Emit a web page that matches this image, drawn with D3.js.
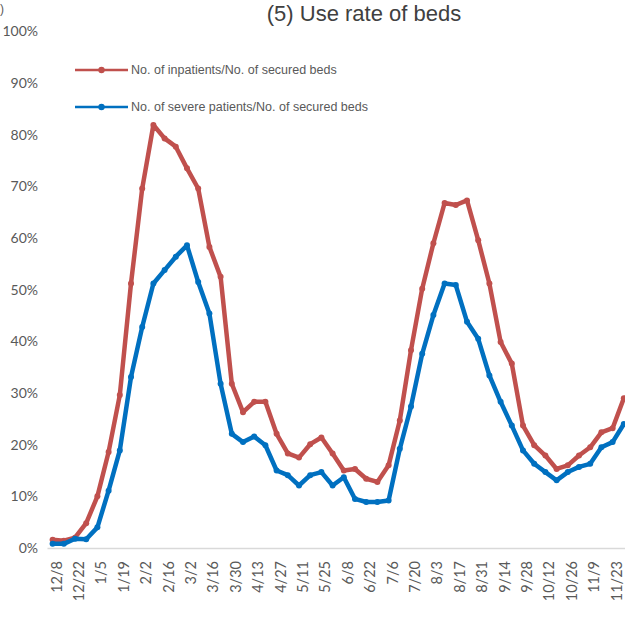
<!DOCTYPE html>
<html>
<head>
<meta charset="utf-8">
<script src="https://cdn.jsdelivr.net/npm/d3@7"></script>
<style>
  body { margin: 0; background: #fff; }
  svg { display: block; }
</style>
</head>
<body>
<svg id="chart" width="625" height="620"></svg>
<script>
// weekly categories (each week shown, every 2nd one labelled)
const weeks = ['12/8', '12/15', '12/22', '12/29', '1/5', '1/12', '1/19', '1/26', '2/2', '2/9',
  '2/16', '2/23', '3/2', '3/9', '3/16', '3/23', '3/30', '4/6', '4/13', '4/20',
  '4/27', '5/4', '5/11', '5/18', '5/25', '6/1', '6/8', '6/15', '6/22', '6/29',
  '7/6', '7/13', '7/20', '7/27', '8/3', '8/10', '8/17', '8/24', '8/31', '9/7',
  '9/14', '9/21', '9/28', '10/5', '10/12', '10/19', '10/26', '11/2', '11/9', '11/16',
  '11/23', '11/30']
const tickLabels = ['12/8', '12/22', '1/5', '1/19', '2/2', '2/16', '3/2', '3/16', '3/30', '4/13',
  '4/27', '5/11', '5/25', '6/8', '6/22', '7/6', '7/20', '8/3', '8/17', '8/31',
  '9/14', '9/28', '10/12', '10/26', '11/9', '11/23']
const yTicks = [0, 0.1, 0.2, 0.3, 0.4, 0.5, 0.6, 0.7, 0.8, 0.9, 1]

// % values
const inpatients = [1.6, 1.4, 2.0, 4.8, 10.0, 18.6, 29.6, 51.2, 69.6, 81.9,
  79.3, 77.7, 73.5, 69.6, 58.3, 52.5, 31.8, 26.3, 28.3, 28.3,
  22.1, 18.3, 17.5, 20.1, 21.4, 18.3, 15.0, 15.3, 13.4, 12.8,
  16.0, 24.7, 38.3, 50.2, 59.0, 66.8, 66.4, 67.3, 59.6, 51.2,
  39.9, 35.7, 23.7, 19.9, 17.9, 15.3, 16.0, 17.9, 19.5, 22.4,
  23.2, 29.0]
const severe = [0.8, 0.8, 1.8, 1.7, 4.0, 11.1, 18.9, 33.1, 42.8, 51.2,
  53.8, 56.4, 58.6, 51.5, 45.4, 31.8, 22.1, 20.5, 21.6, 19.9,
  15.0, 14.1, 12.1, 14.1, 14.7, 12.1, 13.7, 9.5, 8.9, 8.9,
  9.2, 19.2, 27.4, 37.6, 45.1, 51.2, 50.9, 43.8, 40.5, 33.4,
  28.3, 23.7, 18.9, 16.3, 14.7, 13.1, 14.7, 15.7, 16.3, 19.5,
  20.5, 24.0]

const seriesNames = ['No. of inpatients/No. of secured beds', 'No. of severe patients/No. of secured beds']
const seriesColors = ['#c0504d', '#0070c0']

const svg = d3.select('#chart')
const left = 47
const band = 11.2
const y0 = 548
const y100 = 31.5

const x = d3.scaleBand()
            .domain(weeks)
            .range([left, left + band * weeks.length])
            .padding(0)
const xc = d => x(d) + x.bandwidth() / 2
const y = d3.scaleLinear()
            .domain([0, 1])
            .range([y0, y100])

// title (the chart is cropped at the top left, a stray bracket remains)
svg.append('text')
   .attr('x', 0).attr('y', 13)
   .attr('font-family', 'Liberation Sans, Arial, sans-serif')
   .attr('font-size', 12)
   .attr('fill', '#595959')
   .text(')')
svg.append('text')
   .attr('x', 364).attr('y', 21)
   .attr('text-anchor', 'middle')
   .attr('font-family', 'Liberation Sans, Arial, sans-serif')
   .attr('font-size', 22)
   .attr('fill', '#404040')
   .text('(5) Use rate of beds')

// y axis, labels only
const yAxis = d3.axisLeft(y)
                .tickValues(yTicks)
                .tickFormat(d3.format('.0%'))
                .tickSize(0)
                .tickPadding(9)
const gy = svg.append('g')
              .attr('transform', `translate(${left},0)`)
              .call(yAxis)
gy.select('.domain').remove()
gy.selectAll('text')
  .attr('font-family', 'Lato, sans-serif')
  .attr('font-size', 14)
  .attr('fill', '#595959')

// x axis
const xAxis = d3.axisBottom(x)
                .tickValues(tickLabels)
                .tickSize(0)
const gx = svg.append('g')
              .attr('transform', `translate(0,${y0})`)
              .call(xAxis)
gx.select('.domain')
  .attr('stroke', '#d9d9d9')
  .attr('stroke-width', 1.5)
gx.selectAll('text')
  .attr('font-family', 'Lato, sans-serif')
  .attr('font-size', 14.5)
  .attr('fill', '#595959')
  .attr('text-anchor', 'end')
  .attr('transform', 'translate(4,13) rotate(-90)')
  .attr('x', 0)
  .attr('y', 0)
  .attr('dy', '0.35em')

// lines
const line = d3.line()
               .x((d, i) => xc(weeks[i]))
               .y(d => y(d / 100))
const sets = [inpatients, severe]
sets.forEach((vals, k) => {
  svg.append('path')
     .datum(vals)
     .attr('fill', 'none')
     .attr('stroke', seriesColors[k])
     .attr('stroke-width', 4.5)
     .attr('stroke-linejoin', 'round')
     .attr('d', line)
  svg.append('g')
     .selectAll('circle')
     .data(vals)
     .join('circle')
     .attr('cx', (d, i) => xc(weeks[i]))
     .attr('cy', d => y(d / 100))
     .attr('r', 3)
     .attr('fill', seriesColors[k])
})

// legend
const legendY = [70, 107]
const lg = svg.append('g')
seriesNames.forEach((name, k) => {
  lg.append('line')
    .attr('x1', 75).attr('x2', 128)
    .attr('y1', legendY[k]).attr('y2', legendY[k])
    .attr('stroke', seriesColors[k])
    .attr('stroke-width', 2.5)
  lg.append('circle')
    .attr('cx', 101.5).attr('cy', legendY[k])
    .attr('r', 3.2)
    .attr('fill', seriesColors[k])
  lg.append('text')
    .attr('x', 131).attr('y', legendY[k])
    .attr('dy', '0.35em')
    .attr('font-family', 'Liberation Sans, Arial, sans-serif')
    .attr('font-size', 12.5)
    .attr('fill', '#595959')
    .text(name)
})
</script>
</body>
</html>
